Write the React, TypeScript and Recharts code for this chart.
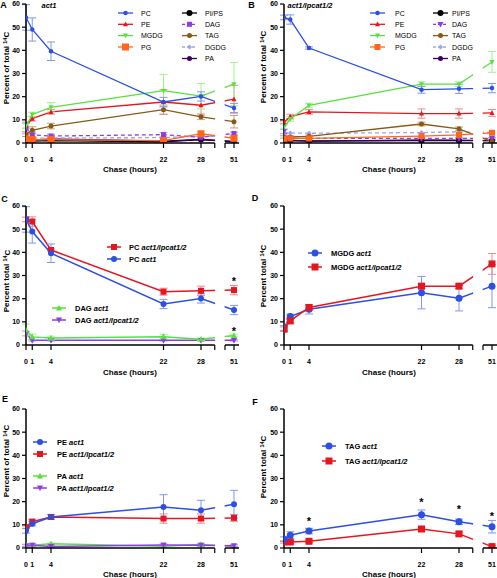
import React from 'react';
import { LineChart, Line, XAxis, YAxis, ErrorBar, ReferenceLine, ReferenceArea, ReferenceDot } from 'recharts';

const FONT = '"Liberation Sans", Arial, Helvetica, sans-serif';

// ---------- data ----------
const hours = [0, 1, 4, 22, 28, 51];
const yTicks = [0, 10, 20, 30, 40, 50, 60];

// act1
const pcAct1 = [54.2, 49.0, 39.6, 17.7, 20.1, 15.1];
const pcAct1Err = [5.5, 5.0, 4.0, 2.0, 2.0, 2.0];
const peAct1 = [7.4, 10.5, 13.4, 17.7, 16.3, 18.9];
const peAct1Err = [1.0, 1.0, 1.0, 5.3, 4.3, 6.0];
const mgdgAct1 = [7.3, 12.3, 15.4, 22.6, 20.2, 25.4];
const mgdgAct1Err = [1.0, 1.0, 2.0, 7.0, 5.5, 9.3];
const pgAct1 = [1.8, 1.5, 1.5, 1.0, 4.0, 2.0];
const pipsAct1 = [1.0, 0.8, 1.0, 0.5, 1.5, 0.5];
const dagAct1 = [6.5, 3.5, 3.0, 3.6, 2.5, 4.1];
const dagAct1Err = [2.5, 1.2, 0.8, 1.0, 0.5, 0.6];
const tagAct1 = [3.8, 5.5, 7.3, 14.4, 11.3, 9.2];
const tagAct1Err = [1.0, 1.5, 1.2, 2.0, 1.2, 2.7];
const dgdgAct1 = [2.0, 2.0, 2.2, 2.3, 3.0, 2.5];
const paAct1 = [1.2, 1.2, 1.8, 0.8, 1.5, 0.7];
const paAct1Err = [0.5, 0.8, 0.3, 0.5, 0.6, 0.8];

// act1/lpcat1/2
const pcLp = [54.2, 53.3, 41.0, 23.0, 23.4, 23.7];
const pcLpErr = [1.0, 2.0, 0.5, 1.5, 2.0, 2.0];
const peLp = [9.0, 11.4, 13.4, 12.7, 12.7, 13.0];
const peLpErr = [0.5, 1.0, 1.0, 2.0, 2.0, 1.5];
const mgdgLp = [6.8, 10.4, 16.2, 25.4, 25.4, 35.0];
const mgdgLpErr = [1.0, 1.0, 1.0, 1.0, 1.0, 4.5];
const pgLp = [1.8, 2.0, 2.0, 3.0, 3.5, 4.4];
const pipsLp = [1.0, 0.9, 0.9, 1.0, 1.0, 1.0];
const dagLp = [5.0, 2.0, 2.0, 2.0, 2.0, 2.0];
const dagLpErr = [1.0, 0.3, 0.3, 0.3, 0.3, 0.3];
const tagLp = [2.6, 2.6, 2.9, 8.2, 6.1, 0.6];
const tagLpErr = [0.5, 0.5, 0.5, 0.8, 0.8, 0.5];
const dgdgLp = [4.5, 4.3, 4.2, 4.5, 4.8, 4.5];
const paLp = [1.0, 1.2, 0.7, 1.3, 1.2, 1.0];
const paLpErr = [0.4, 0.6, 0.3, 0.5, 0.5, 0.4];

// significance marks (hours, y position)
const starsC = [{ h: 51, y: 27.5 }, { h: 51, y: 6.0 }];
const starsF = [{ h: 4, y: 11.5 }, { h: 22, y: 19.7 }, { h: 28, y: 16.7 }, { h: 51, y: 13.7 }];

// ---------- broken x axis ----------
const BREAK_LO = 30.2;
const BREAK_HI = 31.84;
const SHIFT = 17.72;
const X_MAX = 34.08;
const toX = (h: number) => (h <= 30 ? h : h - SHIFT);
const xTicks = [...hours.map(toX), BREAK_LO, BREAK_HI].sort((a, b) => a - b);
const fmtX = (v: number) => {
  const h = hours.find((hh) => Math.abs(toX(hh) - v) < 0.01);
  return h === undefined ? '' : String(h);
};

// ---------- colours ----------
const BLUE = '#2d4fe4';
const BLUE_E = '#8296f0';
const RED = '#e6161e';
const RED_E = '#f08a8c';
const GREEN = '#56e23c';
const GREEN_E = '#a3f08e';
const ORANGE = '#ff661a';
const PURPLE = '#8e3ce8';
const PURPLE_E = '#bb92f0';
const BROWN = '#8a5a14';
const BROWN_E = '#c4a070';
const LBLUE = '#9ba4f5';
const DPURPLE = '#3a0060';

type Shape = 'circle' | 'square' | 'up' | 'down' | 'diamond';
type S = {
  key: string;
  name: string;
  geno?: string;
  values: number[];
  errors?: number[];
  color: string;
  errColor?: string;
  shape: Shape;
  size: number;
  width: number;
  dash?: string;
};

function shapeEl(shape: Shape, cx: number, cy: number, size: number, color: string) {
  const h = size / 2;
  switch (shape) {
    case 'circle':
      return <circle cx={cx} cy={cy} r={h} fill={color} />;
    case 'square':
      return <rect x={cx - h} y={cy - h} width={size} height={size} fill={color} />;
    case 'up':
      return <polygon points={`${cx},${cy - h * 1.1} ${cx + h},${cy + h * 0.8} ${cx - h},${cy + h * 0.8}`} fill={color} />;
    case 'down':
      return <polygon points={`${cx},${cy + h * 1.1} ${cx + h},${cy - h * 0.8} ${cx - h},${cy - h * 0.8}`} fill={color} />;
    case 'diamond':
      return <polygon points={`${cx},${cy - h} ${cx + h},${cy} ${cx},${cy + h} ${cx - h},${cy}`} fill={color} />;
  }
  return null;
}

const makeDot = (s: S) => (props: any) => {
  const { cx, cy, index } = props;
  if (cx == null || cy == null) return <g key={`${s.key}-n${index}`} />;
  return <g key={`${s.key}-${index}`}>{shapeEl(s.shape, cx, cy, s.size, s.color)}</g>;
};

// ---------- panel A / B series ----------
const seriesA: S[] = [
  { key: 'pips', name: 'PI/PS', values: pipsAct1, color: '#000', shape: 'circle', size: 6, width: 1.3 },
  { key: 'pa', name: 'PA', values: paAct1, color: DPURPLE, shape: 'circle', size: 5, width: 1.3 },
  { key: 'dgdg', name: 'DGDG', values: dgdgAct1, color: LBLUE, shape: 'diamond', size: 5, width: 1.3, dash: '4 3' },
  { key: 'dag', name: 'DAG', values: dagAct1, errors: dagAct1Err, errColor: PURPLE_E, color: PURPLE, shape: 'square', size: 5, width: 1.3, dash: '4 3' },
  { key: 'tag', name: 'TAG', values: tagAct1, errors: tagAct1Err, errColor: BROWN_E, color: BROWN, shape: 'circle', size: 5, width: 1.3 },
  { key: 'pg', name: 'PG', values: pgAct1, color: ORANGE, shape: 'square', size: 7, width: 1.3 },
  { key: 'pe', name: 'PE', values: peAct1, errors: peAct1Err, errColor: RED_E, color: RED, shape: 'up', size: 5, width: 1.3 },
  { key: 'mgdg', name: 'MGDG', values: mgdgAct1, errors: mgdgAct1Err, errColor: GREEN_E, color: GREEN, shape: 'down', size: 5, width: 1.3 },
  { key: 'pc', name: 'PC', values: pcAct1, errors: pcAct1Err, errColor: BLUE_E, color: BLUE, shape: 'circle', size: 4.5, width: 1.3 },
];
const seriesB: S[] = [
  { key: 'pips', name: 'PI/PS', values: pipsLp, color: '#000', shape: 'circle', size: 6, width: 1.3 },
  { key: 'pa', name: 'PA', values: paLp, color: DPURPLE, shape: 'circle', size: 5, width: 1.3 },
  { key: 'dgdg', name: 'DGDG', values: dgdgLp, color: LBLUE, shape: 'diamond', size: 5, width: 1.3, dash: '4 3' },
  { key: 'dag', name: 'DAG', values: dagLp, errors: dagLpErr, errColor: PURPLE_E, color: PURPLE, shape: 'down', size: 6, width: 1.3, dash: '4 3' },
  { key: 'tag', name: 'TAG', values: tagLp, errors: tagLpErr, errColor: BROWN_E, color: BROWN, shape: 'circle', size: 5, width: 1.3 },
  { key: 'pg', name: 'PG', values: pgLp, color: ORANGE, shape: 'square', size: 6, width: 1.3 },
  { key: 'pe', name: 'PE', values: peLp, errors: peLpErr, errColor: RED_E, color: RED, shape: 'up', size: 5, width: 1.3 },
  { key: 'mgdg', name: 'MGDG', values: mgdgLp, errors: mgdgLpErr, errColor: GREEN_E, color: GREEN, shape: 'down', size: 5, width: 1.3 },
  { key: 'pc', name: 'PC', values: pcLp, errors: pcLpErr, errColor: BLUE_E, color: BLUE, shape: 'circle', size: 4.5, width: 1.3 },
];

const G1 = 'act1';
const G2 = 'act1/lpcat1/2';

const seriesC: S[] = [
  { key: 'dagLp', name: 'DAG', geno: G2, values: dagLp, errors: dagLpErr, errColor: PURPLE_E, color: PURPLE, shape: 'down', size: 6, width: 1.5 },
  { key: 'dagA', name: 'DAG', geno: G1, values: dagAct1, errors: dagAct1Err, errColor: GREEN_E, color: GREEN, shape: 'up', size: 6, width: 1.5 },
  { key: 'pcLp', name: 'PC', geno: G2, values: pcLp, errors: pcLpErr, errColor: RED_E, color: RED, shape: 'square', size: 6, width: 1.5 },
  { key: 'pcA', name: 'PC', geno: G1, values: pcAct1, errors: pcAct1Err, errColor: BLUE_E, color: BLUE, shape: 'circle', size: 6, width: 1.5 },
];
const seriesD: S[] = [
  { key: 'mgA', name: 'MGDG', geno: G1, values: mgdgAct1, errors: mgdgAct1Err, errColor: BLUE_E, color: BLUE, shape: 'circle', size: 7, width: 1.5 },
  { key: 'mgLp', name: 'MGDG', geno: G2, values: mgdgLp, errors: mgdgLpErr, errColor: RED_E, color: RED, shape: 'square', size: 7, width: 1.5 },
];
const seriesE: S[] = [
  { key: 'paA', name: 'PA', geno: G1, values: paAct1, errors: paAct1Err, errColor: GREEN_E, color: GREEN, shape: 'up', size: 6, width: 1.5 },
  { key: 'paLp', name: 'PA', geno: G2, values: paLp, errors: paLpErr, errColor: PURPLE_E, color: PURPLE, shape: 'down', size: 6, width: 1.5 },
  { key: 'peLp', name: 'PE', geno: G2, values: peLp, errors: peLpErr, errColor: RED_E, color: RED, shape: 'square', size: 6, width: 1.5 },
  { key: 'peA', name: 'PE', geno: G1, values: peAct1, errors: peAct1Err, errColor: BLUE_E, color: BLUE, shape: 'circle', size: 6, width: 1.5 },
];
const seriesF: S[] = [
  { key: 'tagLp', name: 'TAG', geno: G2, values: tagLp, errors: tagLpErr, errColor: RED_E, color: RED, shape: 'square', size: 7, width: 1.5 },
  { key: 'tagA', name: 'TAG', geno: G1, values: tagAct1, errors: tagAct1Err, errColor: BLUE_E, color: BLUE, shape: 'circle', size: 7, width: 1.5 },
];

const byKey = (arr: S[], k: string) => arr.find((s) => s.key === k)!;

type LegendItem = { s: S; lineX: number; y: number; textX: number };
type PanelDef = {
  id: string;
  chartLeft: number;
  chartTop: number;
  yAxisWidth: number;
  rightMargin: number;
  series: S[];
  stars?: { h: number; y: number }[];
};

const rowsAB = [13, 24.3, 35.6, 47, 58.5];

const panels: PanelDef[] = [
  { id: 'A', chartLeft: 0, chartTop: 0, yAxisWidth: 26, rightMargin: 10, series: seriesA },
  { id: 'B', chartLeft: 248, chartTop: 0, yAxisWidth: 36, rightMargin: 0, series: seriesB },
  { id: 'C', chartLeft: 0, chartTop: 202, yAxisWidth: 26, rightMargin: 10, series: seriesC, stars: starsC },
  { id: 'D', chartLeft: 248, chartTop: 202, yAxisWidth: 36, rightMargin: 0, series: seriesD },
  { id: 'E', chartLeft: 0, chartTop: 405, yAxisWidth: 26, rightMargin: 10, series: seriesE },
  { id: 'F', chartLeft: 248, chartTop: 405, yAxisWidth: 36, rightMargin: 0, series: seriesF, stars: starsF },
];

const legendsAB = (series: S[], c1: number, t1: number, c2: number, t2: number): LegendItem[] => [
  ...['pc', 'pe', 'mgdg', 'pg'].map((k, i) => ({ s: byKey(series, k), lineX: c1, y: rowsAB[i], textX: t1 })),
  ...['pips', 'dag', 'tag', 'dgdg', 'pa'].map((k, i) => ({ s: byKey(series, k), lineX: c2, y: rowsAB[i], textX: t2 })),
];

const smallLegends: LegendItem[] = [
  ...legendsAB(seriesA, 118, 141, 182, 205),
  ...legendsAB(seriesB, 370, 395, 433, 452),
];
const bigLegends: LegendItem[] = [
  { s: byKey(seriesC, 'pcLp'), lineX: 107, y: 247, textX: 129 },
  { s: byKey(seriesC, 'pcA'), lineX: 107, y: 259, textX: 129 },
  { s: byKey(seriesC, 'dagA'), lineX: 52, y: 308, textX: 75 },
  { s: byKey(seriesC, 'dagLp'), lineX: 52, y: 320, textX: 75 },
  { s: byKey(seriesD, 'mgA'), lineX: 308, y: 253, textX: 331 },
  { s: byKey(seriesD, 'mgLp'), lineX: 308, y: 267, textX: 331 },
  { s: byKey(seriesE, 'peA'), lineX: 33, y: 442, textX: 57 },
  { s: byKey(seriesE, 'peLp'), lineX: 33, y: 454, textX: 57 },
  { s: byKey(seriesE, 'paA'), lineX: 33, y: 476, textX: 57 },
  { s: byKey(seriesE, 'paLp'), lineX: 33, y: 488, textX: 57 },
  { s: byKey(seriesF, 'tagA'), lineX: 322, y: 446, textX: 345 },
  { s: byKey(seriesF, 'tagLp'), lineX: 322, y: 461, textX: 345 },
];

const letters = [
  { t: 'A', x: 3.5, y: 5 },
  { t: 'B', x: 251.5, y: 5 },
  { t: 'C', x: 4.5, y: 199 },
  { t: 'D', x: 255, y: 198 },
  { t: 'E', x: 5, y: 399 },
  { t: 'F', x: 255, y: 402 },
];
const titles = [
  { t: G1, x: 49, y: 5 },
  { t: G2, x: 310, y: 5 },
];
const yLabels = [
  { t: 'Percent of total', x: 6, y: 68 },
  { t: 'Percent of total', x: 263, y: 67 },
  { t: 'Percent total', x: 6.5, y: 281 },
  { t: 'Percent total', x: 263, y: 276 },
  { t: 'Percent of total', x: 6, y: 461 },
  { t: 'Percent total', x: 263, y: 467 },
];
const xLabels = [
  { x: 130, y: 169 },
  { x: 389, y: 169 },
  { x: 130, y: 372 },
  { x: 389, y: 372 },
  { x: 130, y: 574 },
  { x: 389, y: 574 },
];

function Panel({ p }: { p: PanelDef }) {
  const data = hours.map((h, i) => {
    const row: any = { x: toX(h) };
    p.series.forEach((s) => {
      row[s.key] = s.values[i];
      if (s.errors) row[s.key + 'E'] = s.errors[i];
    });
    return row;
  });
  const tickStyle = { fontSize: 7, fontWeight: 'bold', fill: '#000', fontFamily: FONT };
  return (
    <div style={{ position: 'absolute', left: p.chartLeft, top: p.chartTop }}>
      <LineChart width={249} height={178} data={data} margin={{ top: 4, right: p.rightMargin, bottom: 0, left: 0 }}>
        <XAxis
          type="number"
          dataKey="x"
          domain={[0, X_MAX]}
          ticks={xTicks}
          tickFormatter={fmtX}
          interval={0}
          axisLine={false}
          tickLine={{ stroke: '#000', strokeWidth: 1.2 }}
          tickSize={5}
          tickMargin={9}
          height={35}
          tick={tickStyle}
          allowDataOverflow
        />
        <YAxis
          type="number"
          domain={[0, 60]}
          ticks={yTicks}
          interval={0}
          width={p.yAxisWidth}
          tickSize={4}
          tickMargin={2}
          axisLine={{ stroke: '#000', strokeWidth: 1.5 }}
          tickLine={{ stroke: '#000', strokeWidth: 1.2 }}
          tick={tickStyle}
          allowDataOverflow
        />
        {p.series.map((s) => (
          <Line
            key={s.key}
            type="linear"
            dataKey={s.key}
            name={s.geno ? `${s.name} ${s.geno}` : s.name}
            stroke={s.color}
            strokeWidth={s.width}
            strokeDasharray={s.dash}
            dot={makeDot(s)}
            activeDot={false}
            isAnimationActive={false}
          >
            {s.errors && (
              <ErrorBar dataKey={s.key + 'E'} width={4} stroke={s.errColor} strokeWidth={1} direction="y" isAnimationActive={false} />
            )}
          </Line>
        ))}
        <ReferenceArea
          x1={BREAK_LO + 0.06}
          x2={BREAK_HI - 0.06}
          y1={0}
          y2={60}
          fill="#ffffff"
          fillOpacity={1}
          stroke="none"
          zIndex={2000}
        />
        <ReferenceLine segment={[{ x: 0, y: 0 }, { x: BREAK_LO, y: 0 }]} stroke="#000" strokeWidth={1.5} zIndex={2001} />
        <ReferenceLine segment={[{ x: BREAK_HI, y: 0 }, { x: X_MAX, y: 0 }]} stroke="#000" strokeWidth={1.5} zIndex={2001} />
        {(p.stars || []).map((st, i) => (
          <ReferenceDot
            key={i}
            x={toX(st.h)}
            y={st.y}
            r={0}
            fill="none"
            stroke="none"
            label={{ value: '*', position: 'center', fontSize: 11, fontWeight: 'bold', fill: '#000', fontFamily: FONT }}
          />
        ))}
      </LineChart>
    </div>
  );
}

function LegendRow({ it, len, fontSize, bold }: { it: LegendItem; len: number; fontSize: number; bold: boolean }) {
  const s = it.s;
  return (
    <g>
      <line x1={it.lineX} x2={it.lineX + len} y1={it.y} y2={it.y} stroke={s.color} strokeWidth={s.width} strokeDasharray={s.dash ? '3 2' : undefined} />
      {shapeEl(s.shape, it.lineX + len / 2, it.y, s.size, s.color)}
      <text x={it.textX} y={it.y} dominantBaseline="central" fontSize={fontSize} fontWeight={bold ? 'bold' : 'normal'} fill="#000">
        {s.geno ? `${s.name} ` : s.name}
        {s.geno && <tspan fontStyle="italic">{s.geno}</tspan>}
      </text>
    </g>
  );
}

export default function App() {
  return (
    <div style={{ position: 'absolute', left: 0, top: 0, width: 497, height: 578, overflow: 'hidden', background: '#fff', fontFamily: FONT }}>
      {panels.map((p) => (
        <Panel key={p.id} p={p} />
      ))}
      <svg width={497} height={578} style={{ position: 'absolute', left: 0, top: 0, pointerEvents: 'none' }} fontFamily={FONT}>
        {letters.map((l) => (
          <text key={l.t} x={l.x} y={l.y} textAnchor="middle" dominantBaseline="central" fontSize={9} fontWeight="bold" fill="#000">
            {l.t}
          </text>
        ))}
        {titles.map((t) => (
          <text key={t.t} x={t.x} y={t.y} textAnchor="middle" dominantBaseline="central" fontSize={7.5} fontWeight="bold" fontStyle="italic" fill="#000">
            {t.t}
          </text>
        ))}
        {yLabels.map((l, i) => (
          <text key={i} transform={`translate(${l.x},${l.y}) rotate(-90)`} textAnchor="middle" dominantBaseline="central" fontSize={8} fontWeight="bold" fill="#000">
            {l.t + ' '}
            <tspan fontSize={5.5} dy={-1.5}>14</tspan>
            <tspan dy={1.5}>C</tspan>
          </text>
        ))}
        {xLabels.map((l, i) => (
          <text key={i} x={l.x} y={l.y} textAnchor="middle" dominantBaseline="central" fontSize={8} fontWeight="bold" fill="#000">
            Chase (hours)
          </text>
        ))}
        {smallLegends.map((it, i) => (
          <LegendRow key={`s${i}`} it={it} len={15} fontSize={7} bold={false} />
        ))}
        {bigLegends.map((it, i) => (
          <LegendRow key={`b${i}`} it={it} len={14} fontSize={7.5} bold={true} />
        ))}
      </svg>
    </div>
  );
}
